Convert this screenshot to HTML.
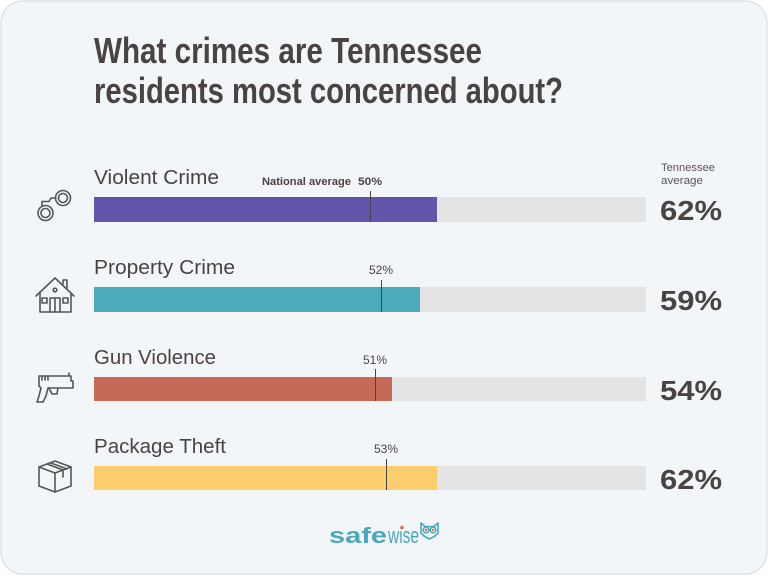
<!DOCTYPE html>
<html><head><meta charset="utf-8"><style>
html,body{margin:0;padding:0;background:#fff;}
body{width:768px;height:576px;overflow:hidden;}
svg{display:block;font-family:"Liberation Sans",sans-serif;}
</style></head><body>
<svg width="768" height="576" viewBox="0 0 768 576" xmlns="http://www.w3.org/2000/svg">
<rect x="1" y="1" width="766" height="573" rx="22" ry="22" fill="#f3f6f8" stroke="#d9dee2" stroke-width="1.2"/>
<g fill="#4a4344" font-weight="bold" font-size="36">
<text x="94" y="63" textLength="388" lengthAdjust="spacingAndGlyphs">What crimes are Tennessee</text>
<text x="94" y="103" textLength="469" lengthAdjust="spacingAndGlyphs">residents most concerned about?</text>
</g>
<g fill="#5a5355" font-size="11">
<text x="661" y="171" textLength="54" lengthAdjust="spacingAndGlyphs">Tennessee</text>
<text x="661" y="184" textLength="42" lengthAdjust="spacingAndGlyphs">average</text>
</g>
<!-- rows -->
<g font-size="20" fill="#4a4344">
<text x="94" y="184" textLength="125" lengthAdjust="spacingAndGlyphs">Violent Crime</text>
<text x="94" y="274" textLength="141" lengthAdjust="spacingAndGlyphs">Property Crime</text>
<text x="94" y="364" textLength="122" lengthAdjust="spacingAndGlyphs">Gun Violence</text>
<text x="94" y="453" textLength="132" lengthAdjust="spacingAndGlyphs">Package Theft</text>
</g>
<g fill="#e4e4e4">
<rect x="94" y="197" width="552" height="25"/>
<rect x="94" y="287" width="552" height="25"/>
<rect x="94" y="377" width="552" height="24"/>
<rect x="94" y="466" width="552" height="24"/>
</g>
<rect x="94" y="197" width="343" height="25" fill="#6355a9"/>
<rect x="94" y="287" width="326" height="25" fill="#4babbb"/>
<rect x="94" y="377" width="298" height="24" fill="#c66a58"/>
<rect x="94" y="466" width="343" height="24" fill="#fbcd6c"/>
<g stroke="#4a4344" stroke-width="1">
<line x1="370.5" y1="191" x2="370.5" y2="222"/>
<line x1="381.5" y1="280" x2="381.5" y2="312"/>
<line x1="375.5" y1="369" x2="375.5" y2="401"/>
<line x1="386.5" y1="459" x2="386.5" y2="490"/>
</g>
<g font-size="11" fill="#4a4344" font-weight="bold">
<text x="262" y="185" textLength="89" lengthAdjust="spacingAndGlyphs">National average</text>
<text x="358" y="185" textLength="24" lengthAdjust="spacingAndGlyphs">50%</text>
</g>
<g font-size="12" fill="#4a4344">
<text x="381" y="274" text-anchor="middle">52%</text>
<text x="375" y="364" text-anchor="middle">51%</text>
<text x="386" y="453" text-anchor="middle">53%</text>
</g>
<g font-size="28" font-weight="bold" fill="#4a4344">
<text x="660" y="220" textLength="62" lengthAdjust="spacingAndGlyphs">62%</text>
<text x="660" y="310" textLength="62" lengthAdjust="spacingAndGlyphs">59%</text>
<text x="660" y="400" textLength="62" lengthAdjust="spacingAndGlyphs">54%</text>
<text x="660" y="489" textLength="62" lengthAdjust="spacingAndGlyphs">62%</text>
</g>
<!-- icons -->
<g fill="none" stroke="#555" stroke-width="1.6" stroke-linecap="round" stroke-linejoin="round">
<!-- handcuffs -->
<circle cx="63" cy="198" r="7.5"/>
<circle cx="63" cy="198" r="4.5"/>
<circle cx="45.5" cy="213" r="7.5"/>
<circle cx="45.5" cy="213" r="4.5"/>
<path d="M55.5 198 L51 198 L49 201.5 M42 205.5 L42 201.5 L49 201.5"/>
<!-- house -->
<path d="M36 296 L55 278 L74 296"/>
<path d="M40 293 L40 312 L71 312 L71 293"/>
<path d="M63 284 L63 280 L67 280 L67 288"/>
<circle cx="55" cy="290" r="1.8"/>
<rect x="42" y="298" width="5" height="5"/>
<rect x="63" y="298" width="5" height="5"/>
<path d="M50 312 L50 298 L60 298 L60 312 M55 298 L55 312"/>
<!-- gun -->
<path d="M39 376 L71 376 L71 381 L73 381 L73 388 L48 388 L46 396 L43 402 L37 402 L39 396 L41 388 L39 386 Z"/>
<path d="M49 388 L52 394 L57 394 L58 388"/>
<path d="M42 380 L42 377 M45 380 L45 377 M48 380 L48 377"/>
<path d="M69 376 L69 373"/>
<!-- box -->
<path d="M39 467 L55 461 L71 467 L71 486 L55 492 L39 486 Z"/>
<path d="M39 467 L55 473 L71 467 M55 473 L55 492"/>
<path d="M47 464 L63 470 L63 477 M51 463 L67 469"/>
</g>
<!-- logo -->
<g font-size="22" fill="#4aa8be">
<text x="329" y="543" font-weight="bold" textLength="58" lengthAdjust="spacingAndGlyphs">safe</text>
<text x="388" y="543" textLength="31" lengthAdjust="spacingAndGlyphs">wise</text>
</g>
<circle cx="402" cy="527.5" r="1.7" fill="#e8684a"/>
<g fill="none" stroke="#4aa8be" stroke-width="1.6" stroke-linejoin="round">
<path d="M421 523 L425 526.5 L434 526.5 L438 523 L438 533 L435 536 L429.5 539 L424 536 L421 533 Z"/>
<circle cx="426" cy="530" r="2.8"/>
<circle cx="433" cy="530" r="2.8"/>
</g>
<circle cx="426" cy="530" r="1.2" fill="#e8684a"/>
<circle cx="433" cy="530" r="1.2" fill="#e8684a"/>
</svg>
</body></html>
